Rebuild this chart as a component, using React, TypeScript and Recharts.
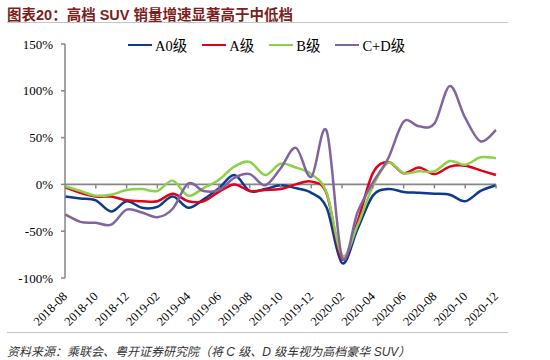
import { LineChart, Line, XAxis, YAxis, ReferenceLine, ReferenceDot } from 'recharts'

const months = [
  '2018-08', '2018-09', '2018-10', '2018-11', '2018-12', '2019-01', '2019-02', '2019-03',
  '2019-04', '2019-05', '2019-06', '2019-07', '2019-08', '2019-09', '2019-10', '2019-11',
  '2019-12', '2020-01', '2020-02', '2020-03', '2020-04', '2020-05', '2020-06', '2020-07',
  '2020-08', '2020-09', '2020-10', '2020-11', '2020-12',
]
const a0 = [-13, -15, -17, -29, -18, -25, -24, -13, -25, -16, -4, 10, -7, -5, -1, -4, -9, -25, -84, -48, -12, -5, -8, -9, -10, -11, -18, -7, -1]
const aLevel = [-3, -9, -13, -13, -17, -18, -18, -10, -18, -18, -8, 0, -7, -6, -5, 0, 3, -10, -80, -40, 12, 24, 12, 18, 11, 19, 20, 15, 10]
const bLevel = [-2, -7, -12, -11, -6, -5, -7, 4, -12, -4, 5, 19, 24, 10, 22, 18, 11, -9, -76, -44, -2, 23, 12, 14, 14, 25, 21, 29, 28]
const cdLevel = [-32, -40, -41, -43, -27, -30, -35, -26, 1, -7, -6, 7, 11, -1, 17, 39, 8, 57, -78, -30, 2, 28, 67, 62, 65, 105, 71, 46, 58]
const yTicks = [-100, -50, 0, 50, 100, 150]

const series = [
  { key: 'A0', name: 'A0级', color: '#0B3A8F' },
  { key: 'A', name: 'A级', color: '#E3001B' },
  { key: 'B', name: 'B级', color: '#8DD14B' },
  { key: 'CD', name: 'C+D级', color: '#8064A2' },
]

const data = months.map((m, i) => ({ month: m, A0: a0[i], A: aLevel[i], B: bLevel[i], CD: cdLevel[i] }))

const serif = '"Liberation Serif", "Times New Roman", "Noto Sans CJK SC", serif'
const axisGray = '#868686'

// excel-like smoothing (catmull-rom through the points)
const smoothCurve = (context: any) => {
  let pts: number[][] = []
  return {
    areaStart() {},
    areaEnd() {},
    lineStart() { pts = [] },
    point(x: number, y: number) { pts.push([+x, +y]) },
    lineEnd() {
      if (!pts.length) return
      context.moveTo(pts[0][0], pts[0][1])
      for (let i = 0; i < pts.length - 1; i++) {
        const p0 = pts[i - 1] || pts[i], p1 = pts[i], p2 = pts[i + 1], p3 = pts[i + 2] || pts[i + 1]
        context.bezierCurveTo(
          p1[0] + (p2[0] - p0[0]) / 6, p1[1] + (p2[1] - p0[1]) / 6,
          p2[0] - (p3[0] - p1[0]) / 6, p2[1] - (p3[1] - p1[1]) / 6,
          p2[0], p2[1])
      }
    },
  }
}

function MonthTick({ x, y, payload }: { x?: number; y?: number; payload?: { value: string } }) {
  const tx = (x ?? 0) + 3
  const ty = (y ?? 0) + 19
  return (
    <text x={tx} y={ty} transform={`rotate(-45, ${tx}, ${ty})`} textAnchor="end" fontSize={12.5} fontFamily={serif} fill="#000">
      {payload?.value}
    </text>
  )
}

const zeroTick = (props: { cx?: number; cy?: number }) => (
  <line x1={props.cx} y1={props.cy} x2={props.cx} y2={(props.cy ?? 0) + 4} stroke={axisGray} strokeWidth={1.5} />
)

export default function App() {
  return (
    <div style={{ position: 'absolute', left: 0, top: 0, width: 550, height: 360, background: '#fff', overflow: 'hidden' }}>
      <div style={{ position: 'absolute', left: 7, top: 3, fontSize: 14.5, fontWeight: 700, color: '#7C1E1E', fontFamily: '"Liberation Sans", "Noto Sans CJK SC", sans-serif', whiteSpace: 'nowrap' }}>
        图表20：高档 SUV 销量增速显著高于中低档
      </div>
      <div style={{ position: 'absolute', left: 7, top: 22, width: 501, borderTop: '1.5px solid #c4c4c4' }} />

      <div style={{ position: 'absolute', left: 0, top: 0 }}>
        <LineChart width={550} height={335} data={data} margin={{ top: 44, right: 54, bottom: 0, left: 0 }}>
          <XAxis dataKey="month" interval={1} axisLine={false} tickLine={false} tickSize={0} tickMargin={0} height={57} tick={<MonthTick />} />
          <YAxis
            domain={[-100, 150]} ticks={yTicks} width={65} tickFormatter={v => `${v}%`}
            axisLine={{ stroke: axisGray, strokeWidth: 1.5 }} tickLine={{ stroke: axisGray, strokeWidth: 1.5 }}
            tickSize={4} tickMargin={8} tick={{ fontSize: 13, fontFamily: serif, fill: '#000' }}
          />
          <ReferenceLine y={0} stroke={axisGray} strokeWidth={1.8} />
          {months.filter((_, i) => i % 2 === 0 && i > 0).map(m => (
            <ReferenceDot key={m} x={m} y={0} shape={zeroTick} />
          ))}
          {series.map(s => (
            <Line key={s.key} dataKey={s.key} name={s.name} type={smoothCurve as any} stroke={s.color} strokeWidth={2.5} dot={false} isAnimationActive={false} />
          ))}
        </LineChart>
      </div>

      <div style={{ position: 'absolute', left: 128, top: 34, display: 'flex', alignItems: 'center', fontFamily: serif, fontSize: 14.5, color: '#000' }}>
        {series.map(s => (
          <div key={s.key} style={{ display: 'flex', alignItems: 'center', marginRight: 15 }}>
            <span style={{ width: 24, height: 0, borderTop: `2.5px solid ${s.color}`, display: 'inline-block', marginRight: 3 }} />
            <span>{s.name}</span>
          </div>
        ))}
      </div>

      <div style={{ position: 'absolute', left: 7, top: 332, width: 501, borderTop: '1.5px solid #c4c4c4' }} />
      <div style={{ position: 'absolute', left: 7, top: 342, fontSize: 12, fontStyle: 'italic', color: '#333', fontFamily: '"Liberation Sans", "Noto Sans CJK SC", sans-serif', whiteSpace: 'nowrap' }}>
        资料来源：乘联会、粤开证券研究院（将 C 级、D 级车视为高档豪华 SUV）
      </div>
    </div>
  )
}
